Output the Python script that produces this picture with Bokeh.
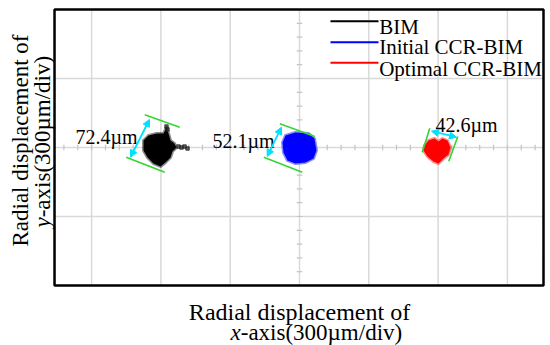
import numpy as np
from bokeh.plotting import figure
from bokeh.models import Range1d, Arrow, NormalHead
from bokeh.core.properties import value
from bokeh.embed import file_html
from bokeh.resources import INLINE

# ---- data (units: divisions of 300 um) ----
series_names = ["BIM", "Initial CCR-BIM", "Optimal CCR-BIM"]
series_colors = ["#000000", "#0000ff", "#ff0000"]

bim_x = [-2.251, -2.179, -2.063, -1.962, -1.919, -1.890, -1.861, -1.804, -1.775,
         -1.833, -1.861, -1.934, -2.006, -2.107, -2.193, -2.251]
bim_y = [0.101, 0.174, 0.203, 0.203, 0.290, 0.203, 0.101, 0.058, 0.0,
         -0.058, -0.145, -0.217, -0.275, -0.232, -0.145, -0.043]
bim_tail_x = [-1.746, -1.703, -1.659, -1.616, -1.919, -1.905]
bim_tail_y = [0.014, 0.0, 0.014, -0.014, 0.304, 0.261]

init_x = [-0.202, -0.058, 0.130, 0.216, 0.245, 0.202, 0.087, -0.058, -0.173, -0.231, -0.245]
init_y = [0.174, 0.217, 0.203, 0.130, -0.043, -0.159, -0.217, -0.232, -0.188, -0.072, 0.072]

opt_x = [1.804, 1.861, 1.948, 2.006, 2.063, 2.136, 2.179, 2.150, 2.078, 2.006, 1.934, 1.847, 1.789]
opt_y = [0.029, 0.101, 0.130, 0.087, 0.130, 0.101, 0.0, -0.101, -0.159, -0.232, -0.203, -0.130, -0.043]

# dispersion widths (um) and their label anchors
width_um = [72.4, 52.1, 42.6]
width_lbl_x = [-3.232, -1.255, 1.962]
width_lbl_y = [0.145, 0.101, 0.319]

# green boundary lines
green_x0 = [-2.233, -2.501, -0.284, -0.515, 1.880, 2.284]
green_y0 = [0.474, -0.141, 0.343, -0.141, 0.280, 0.159]
green_x1 = [-1.728, -1.944, 0.221, 0.039, 1.771, 2.154]
green_y1 = [0.294, -0.358, 0.159, -0.358, -0.068, -0.199]

# cyan double arrows
arr_x0 = [-2.165, -0.260, 1.905]
arr_y0 = [0.406, 0.294, 0.236]
arr_x1 = [-2.439, -0.466, 2.266]
arr_y1 = [-0.141, -0.130, 0.149]

# plot box (divisions)
box_left, box_right, box_bottom, box_top = -3.535, 3.521, -2.0, 2.0
x_ticks = [-3, -2, -1, 0, 1, 2, 3]
y_ticks = [-1, 0, 1]

FONT = value("Liberation Serif")

p = figure(width=550, height=345, output_backend="svg", toolbar_location=None,
           x_range=Range1d(-4.3146, 3.6219), y_range=Range1d(-2.8696, 2.1304),
           min_border=0)
p.xaxis.visible = False
p.yaxis.visible = False
p.grid.visible = False
p.outline_line_color = None
p.background_fill_color = "white"
p.border_fill_color = "white"

GRID = "#d9d9d9"
# grid lines
p.segment(x0=x_ticks, y0=box_bottom, x1=x_ticks, y1=box_top, line_color=GRID, line_width=1.5)
p.segment(x0=box_left, y0=y_ticks, x1=box_right, y1=y_ticks, line_color=GRID, line_width=1.5)

# minor ticks on centre axes
tx = np.round(np.arange(-3.4, 3.5, 0.2), 3)
p.segment(x0=tx, y0=-0.04, x1=tx, y1=0.04, line_color="#c4c4c4", line_width=1.2)
ty = np.round(np.arange(-1.8, 1.9, 0.2), 3)
p.segment(x0=-0.04, y0=ty, x1=0.04, y1=ty, line_color="#c4c4c4", line_width=1.2)

# clusters
for xs, ys, c in [(bim_x, bim_y, series_colors[0]), (init_x, init_y, series_colors[1]),
                  (opt_x, opt_y, series_colors[2])]:
    p.patch(xs, ys, fill_color=c, line_color=c, line_width=3, line_alpha=0.45, line_join="round")
p.scatter(bim_tail_x, bim_tail_y, marker="square", size=3.5, color="#202020", alpha=0.7)

# green lines and cyan arrows
p.segment(x0=green_x0, y0=green_y0, x1=green_x1, y1=green_y1, line_color="#33d633", line_width=1.6)
for a, b, c, d in zip(arr_x0, arr_y0, arr_x1, arr_y1):
    p.add_layout(Arrow(x_start=a, y_start=b, x_end=c, y_end=d, line_color="#00e0ff", line_width=1.8,
                       start=NormalHead(size=7, fill_color="#00e0ff", line_color="#00e0ff"),
                       end=NormalHead(size=7, fill_color="#00e0ff", line_color="#00e0ff")))

p.text(x=width_lbl_x, y=width_lbl_y, text=[f"{v}\u00b5m" for v in width_um], text_font=FONT,
       text_font_size="20px", text_color="black", text_baseline="alphabetic", text_align="left")

# legend (manual)
leg_line_y = [1.830, 1.526, 1.228]
leg_text_y = [1.743, 1.454, 1.141]
p.segment(x0=0.447, y0=leg_line_y, x1=1.140, y1=leg_line_y, line_color=series_colors, line_width=2)
p.text(x=1.150, y=leg_text_y, text=series_names, text_font=FONT, text_font_size="21px",
       text_color="black", text_baseline="alphabetic", text_align="left")

# plot box
p.quad(left=box_left, right=box_right, bottom=box_bottom, top=box_top,
       fill_color=None, line_color="black", line_width=2.5)

# axis titles
p.text(x=0.0, y=-2.391, text=["Radial displacement of"], text_font=FONT,
       text_font_size="24px", text_align="center", text_baseline="alphabetic")
p.text(x=-0.996, y=-2.681, text=["x"], text_font=FONT, text_font_style="italic",
       text_font_size="23px", text_align="left", text_baseline="alphabetic")
p.text(x=-0.848, y=-2.681, text=["-axis(300\u00b5m/div)"], text_font=FONT,
       text_font_size="23px", text_align="left", text_baseline="alphabetic")

p.text(x=-4.026, y=0.101, text=["Radial displacement of"], text_font=FONT, angle=np.pi / 2,
       text_font_size="23px", text_align="center", text_baseline="alphabetic")
p.text(x=-3.709, y=-1.159, text=["y"], text_font=FONT, text_font_style="italic", angle=np.pi / 2,
       text_font_size="23px", text_align="left", text_baseline="alphabetic")
p.text(x=-3.709, y=-1.012, text=["-axis(300\u00b5m/div)"], text_font=FONT, angle=np.pi / 2,
       text_font_size="23px", text_align="left", text_baseline="alphabetic")

open("out.html", "w").write(file_html(p, INLINE))
